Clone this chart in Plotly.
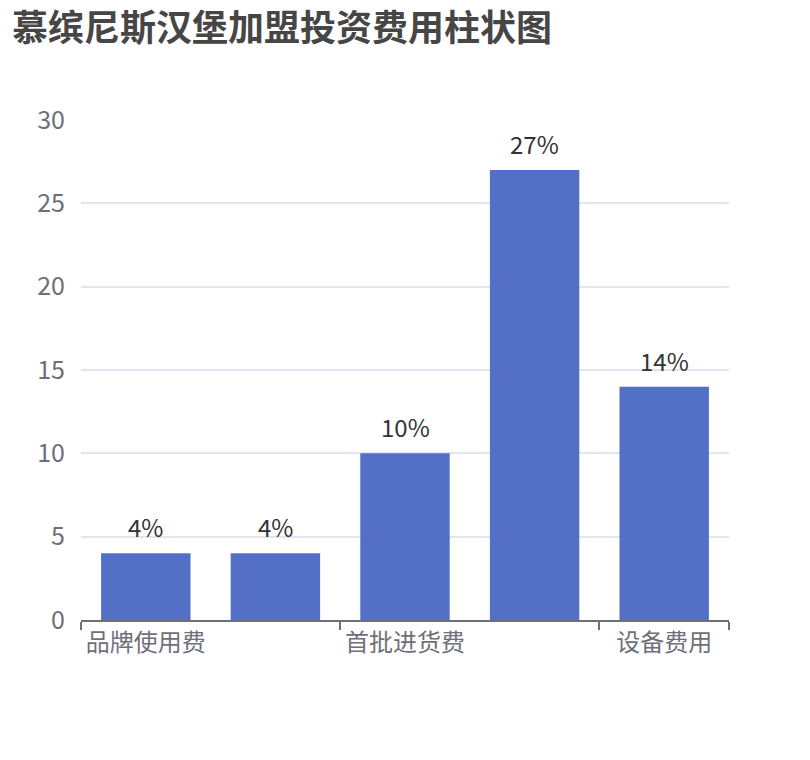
import plotly.graph_objects as go

# 投资费用占比（%），第 2、4 个类别的标签在原图中被隐藏
categories = ["品牌使用费", "加盟费", "首批进货费", "装修费", "设备费用"]
values = [4, 4, 10, 27, 14]
bar_labels = ["4%", "4%", "10%", "27%", "14%"]
shown_ticks = [0, 2, 4]

xs = list(range(len(categories)))
FONT = "Noto Sans CJK SC, Microsoft YaHei, sans-serif"

fig = go.Figure(go.Bar(
    x=xs, y=values,
    marker=dict(color="#5470c6", line=dict(width=0)),
    width=0.69,
))

# 柱顶数值标签
for x, v, lab in zip(xs, values, bar_labels):
    fig.add_annotation(x=x, y=v, text=lab, showarrow=False,
                       yanchor="bottom", yshift=7,
                       font=dict(size=24, color="#333333", family=FONT))

fig.update_layout(
    width=810, height=760,
    margin=dict(l=73, r=89, t=112, b=148),
    plot_bgcolor="white", paper_bgcolor="white",
    showlegend=False,
    font=dict(family=FONT),
    title=dict(text="<b>慕缤尼斯汉堡加盟投资费用柱状图</b>",
               x=0.005, xanchor="left", y=0.99, yanchor="top",
               font=dict(size=36, color="#464646", family=FONT)),
)
fig.update_xaxes(
    range=[-0.5, len(categories) - 0.5],
    tickvals=shown_ticks, ticktext=[categories[i] for i in shown_ticks],
    ticks="", showgrid=False, zeroline=False,
    showline=True, linecolor="#6E7079", linewidth=1.5,
    tickfont=dict(size=24, color="#6E7079"),
    minor=dict(tickvals=[-0.5, 1.5, 3.5, len(categories) - 0.5],
               ticks="outside", ticklen=8, tickcolor="#6E7079", tickwidth=1.5,
               showgrid=False),
)
fig.update_yaxes(
    range=[0, 30], dtick=5, showline=False, zeroline=False,
    gridcolor="#E0E6F1", gridwidth=1.5,
    tickfont=dict(size=25, color="#6E7079"),
    ticklabelstandoff=15,
)

fig.write_html("out.html")
